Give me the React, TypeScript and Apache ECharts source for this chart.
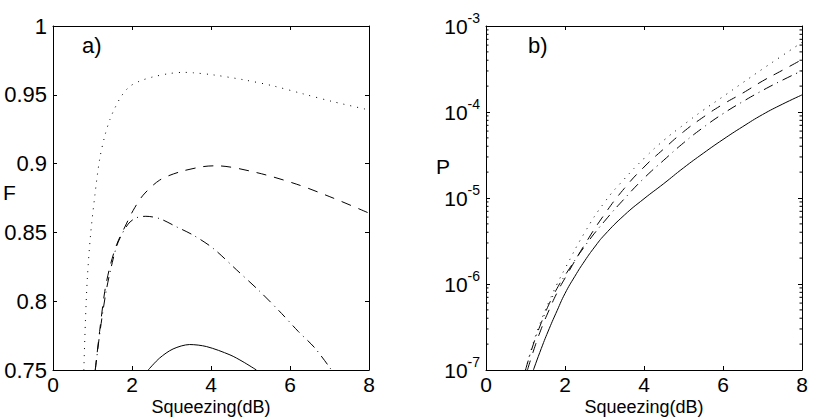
import React, { useEffect, useRef } from "react";
import * as echarts from "echarts";

// ---------- axis ticks ----------
const xTicks = [0, 2, 4, 6, 8];
const fTicks = [0.75, 0.8, 0.85, 0.9, 0.95, 1];
const pDecades = [-7, -6, -5, -4, -3];
const minorMantissas = [2, 3, 4, 5, 6, 7, 8, 9];

// ---------- panel a) F vs squeezing ----------
const fDottedX = [0.78, 0.82, 0.87, 0.95, 1.06, 1.18, 1.31, 1.44, 1.56, 1.73, 1.94, 2.2, 2.53, 2.96, 3.3, 3.55, 4.05, 4.81, 5.57, 6.33, 7.09, 8.0];
const fDottedY = [0.75, 0.785, 0.817, 0.848, 0.877, 0.903, 0.92, 0.932, 0.94, 0.949, 0.956, 0.96, 0.963, 0.9655, 0.9663, 0.966, 0.9645, 0.961, 0.9565, 0.9507, 0.945, 0.939];

const fDashedX = [1.07, 1.18, 1.31, 1.44, 1.61, 1.82, 2.03, 2.28, 2.7, 3.21, 3.8, 4.14, 5.15, 6.17, 7.09, 8.0];
const fDashedY = [0.75, 0.778, 0.807, 0.825, 0.841, 0.854, 0.866, 0.877, 0.888, 0.894, 0.8978, 0.8984, 0.8935, 0.885, 0.875, 0.864];

const fDashDotX = [1.07, 1.2, 1.35, 1.5, 1.65, 1.9, 2.1, 2.35, 2.7, 3.13, 3.55, 4.05, 4.65, 5.24, 5.79, 6.21, 6.63, 7.05];
const fDashDotY = [0.75, 0.78, 0.808, 0.828, 0.843, 0.856, 0.8605, 0.8617, 0.86, 0.854, 0.848, 0.8385, 0.8227, 0.807, 0.791, 0.778, 0.766, 0.75];

const fSolidX = [2.41, 2.7, 3.04, 3.46, 3.89, 4.48, 4.81, 5.15];
const fSolidY = [0.75, 0.7587, 0.7653, 0.7685, 0.767, 0.761, 0.756, 0.75];

// ---------- panel b) P vs squeezing ----------
const pDottedX = [1.0, 1.2, 1.4, 1.6, 1.8, 2.0, 2.5, 3.0, 3.5, 4.0, 4.5, 5.0, 5.5, 6.0, 6.5, 7.0, 7.5, 8.0];
const pDottedY = [1.0e-7, 2.09e-7, 3.8e-7, 6.31e-7, 1.0e-6, 1.51e-6, 3.98e-6, 8.91e-6, 1.66e-5, 2.88e-5, 4.68e-5, 7.08e-5, 1.05e-4, 1.51e-4, 2.19e-4, 3.16e-4, 4.52e-4, 6.46e-4];

const pDashedX = [1.05, 1.2, 1.4, 1.6, 1.8, 2.0, 2.5, 3.0, 3.5, 4.0, 4.5, 5.0, 5.5, 6.0, 6.5, 7.0, 7.5, 8.0];
const pDashedY = [1.0e-7, 1.66e-7, 3.02e-7, 5.01e-7, 7.94e-7, 1.17e-6, 2.88e-6, 6.46e-6, 1.29e-5, 2.29e-5, 3.72e-5, 5.89e-5, 8.71e-5, 1.23e-4, 1.66e-4, 2.29e-4, 3.05e-4, 4.07e-4];

const pDashDotX = [1.0, 1.2, 1.4, 1.6, 1.8, 2.0, 2.5, 3.0, 3.5, 4.0, 4.5, 5.0, 5.5, 6.0, 6.5, 7.0, 7.5, 8.0];
const pDashDotY = [1.0e-7, 2.0e-7, 3.55e-7, 5.89e-7, 8.91e-7, 1.26e-6, 2.75e-6, 5.37e-6, 9.77e-6, 1.7e-5, 2.75e-5, 4.37e-5, 6.61e-5, 9.55e-5, 1.32e-4, 1.78e-4, 2.34e-4, 3.02e-4];

const pSolidX = [1.2, 1.4, 1.6, 1.8, 2.0, 2.25, 2.5, 2.75, 3.0, 3.5, 4.0, 4.5, 5.0, 5.5, 6.0, 6.5, 7.0, 7.5, 8.0];
const pSolidY = [1.0e-7, 1.78e-7, 3.02e-7, 4.9e-7, 7.76e-7, 1.23e-6, 1.86e-6, 2.69e-6, 3.72e-6, 6.31e-6, 9.8e-6, 1.47e-5, 2.24e-5, 3.31e-5, 4.79e-5, 6.76e-5, 9.33e-5, 1.23e-4, 1.58e-4];

const FONT = "'Liberation Sans', Arial, Helvetica, sans-serif";

const zip = (xs: number[], ys: number[]) => xs.map((x, i) => [x, ys[i]]);

const minorTickValues: number[] = [];
pDecades.slice(0, -1).forEach((d) => {
  minorMantissas.forEach((m) => minorTickValues.push(m * Math.pow(10, d)));
});

const axisLine = { show: true, onZero: false, lineStyle: { color: "#000", width: 1 } };
const tickIn = { show: true, inside: true, length: 4, lineStyle: { color: "#000", width: 1 } };

function lineSeries(data: number[][], gi: number, dash: any) {
  return {
    type: "line",
    xAxisIndex: gi * 2,
    yAxisIndex: gi * 2,
    data,
    showSymbol: false,
    symbol: "none",
    smooth: gi === 0 ? 0.3 : 0.5,
    silent: true,
    lineStyle: { color: "#000", width: 1, type: dash },
  };
}

const xLabel = {
  color: "#000", fontSize: 21, lineHeight: 18, fontFamily: FONT, margin: 5,
  formatter: (v: number) => (xTicks.indexOf(v) >= 0 ? String(v) : ""),
};
const xName = {
  name: "Squeezing(dB)", nameLocation: "middle", nameGap: 28, nameMoveOverlap: false,
  nameTextStyle: { color: "#000", fontSize: 18, lineHeight: 18, fontFamily: FONT },
};

export default function App() {
  const ref = useRef<HTMLDivElement>(null);
  useEffect(() => {
    if (!ref.current) return;
    const chart = echarts.init(ref.current, undefined, { renderer: "svg" });
    const option: any = {
      animation: false,
      backgroundColor: "#fff",
      textStyle: { fontFamily: FONT, color: "#000" },
      grid: [
        { left: 53, top: 26, width: 316, height: 344, containLabel: false, outerBoundsMode: "none" },
        { left: 486, top: 26, width: 316, height: 344, containLabel: false, outerBoundsMode: "none" },
      ],
      xAxis: [
        {
          gridIndex: 0, type: "value", position: "bottom", min: 0, max: 8, interval: 2,
          axisLine, axisTick: tickIn, splitLine: { show: false }, axisLabel: xLabel, ...xName,
        },
        {
          gridIndex: 0, type: "value", position: "top", min: 0, max: 8, interval: 2,
          axisLine, axisTick: tickIn, splitLine: { show: false }, axisLabel: { show: false },
        },
        {
          gridIndex: 1, type: "value", position: "bottom", min: 0, max: 8, interval: 2,
          axisLine, axisTick: tickIn, splitLine: { show: false }, axisLabel: xLabel, ...xName,
        },
        {
          gridIndex: 1, type: "value", position: "top", min: 0, max: 8, interval: 2,
          axisLine, axisTick: tickIn, splitLine: { show: false }, axisLabel: { show: false },
        },
      ],
      yAxis: [
        {
          gridIndex: 0, type: "value", position: "left", min: 0.75, max: 1, interval: 0.05,
          axisLine, axisTick: tickIn, splitLine: { show: false },
          axisLabel: {
            color: "#000", fontSize: 22, fontFamily: FONT, margin: 6,
            formatter: (v: number) => {
              const s = fTicks.find((t) => Math.abs(t - v) < 1e-6);
              return s === undefined ? "" : String(+s.toFixed(2));
            },
          },
        },
        {
          gridIndex: 0, type: "value", position: "right", min: 0.75, max: 1, interval: 0.05,
          axisLine, axisTick: tickIn, splitLine: { show: false }, axisLabel: { show: false },
        },
        {
          gridIndex: 1, type: "log", logBase: 10, position: "left", min: 1e-7, max: 1e-3,
          axisLine, axisTick: tickIn, splitLine: { show: false },
          axisLabel: {
            color: "#000", fontSize: 21, fontFamily: FONT, margin: 6,
            formatter: (v: number) => "10{sup|" + Math.round(Math.log10(v)) + "}",
            rich: {
              sup: { fontSize: 14, fontFamily: FONT, color: "#000", padding: [0, 0, 16, 0] },
            },
          },
        },
        {
          gridIndex: 1, type: "log", logBase: 10, position: "right", min: 1e-7, max: 1e-3,
          axisLine, axisTick: tickIn, splitLine: { show: false }, axisLabel: { show: false },
        },
      ],
      graphic: [
        { type: "text", left: 82, top: 34, style: { text: "a)", fontSize: 22, fontFamily: FONT, fill: "#000" } },
        { type: "text", left: 528, top: 34, style: { text: "b)", fontSize: 22, fontFamily: FONT, fill: "#000" } },
        { type: "text", left: 3, top: 182, style: { text: "F", fontSize: 21, fontFamily: FONT, fill: "#000" } },
        { type: "text", left: 436, top: 156, style: { text: "P", fontSize: 21, fontFamily: FONT, fill: "#000" } },
      ],
      series: [
        lineSeries(zip(fDottedX, fDottedY), 0, [1, 6]),
        lineSeries(zip(fDashedX, fDashedY), 0, [10, 8]),
        lineSeries(zip(fDashDotX, fDashDotY), 0, [10, 5, 1, 5]),
        lineSeries(zip(fSolidX, fSolidY), 0, "solid"),
        lineSeries(zip(pDottedX, pDottedY), 1, [1, 6]),
        lineSeries(zip(pDashedX, pDashedY), 1, [10, 8]),
        lineSeries(zip(pDashDotX, pDashDotY), 1, [10, 5, 1, 5]),
        lineSeries(zip(pSolidX, pSolidY), 1, "solid"),
        {
          type: "custom",
          xAxisIndex: 2,
          yAxisIndex: 2,
          silent: true,
          clip: false,
          data: minorTickValues.map((v) => [0, v]),
          renderItem: (params: any, api: any) => {
            const p0 = api.coord([0, api.value(1)]);
            const p1 = api.coord([8, api.value(1)]);
            const st = { stroke: "#000", lineWidth: 1 };
            return {
              type: "group",
              children: [
                { type: "line", shape: { x1: p0[0], y1: p0[1], x2: p0[0] + 2.5, y2: p0[1] }, style: st },
                { type: "line", shape: { x1: p1[0] - 2.5, y1: p1[1], x2: p1[0], y2: p1[1] }, style: st },
              ],
            };
          },
        },
      ],
    };
    chart.setOption(option);
    return () => chart.dispose();
  }, []);
  return (
    <div
      ref={ref}
      style={{ position: "absolute", left: 0, top: 0, width: 814, height: 417, background: "#fff" }}
    />
  );
}
